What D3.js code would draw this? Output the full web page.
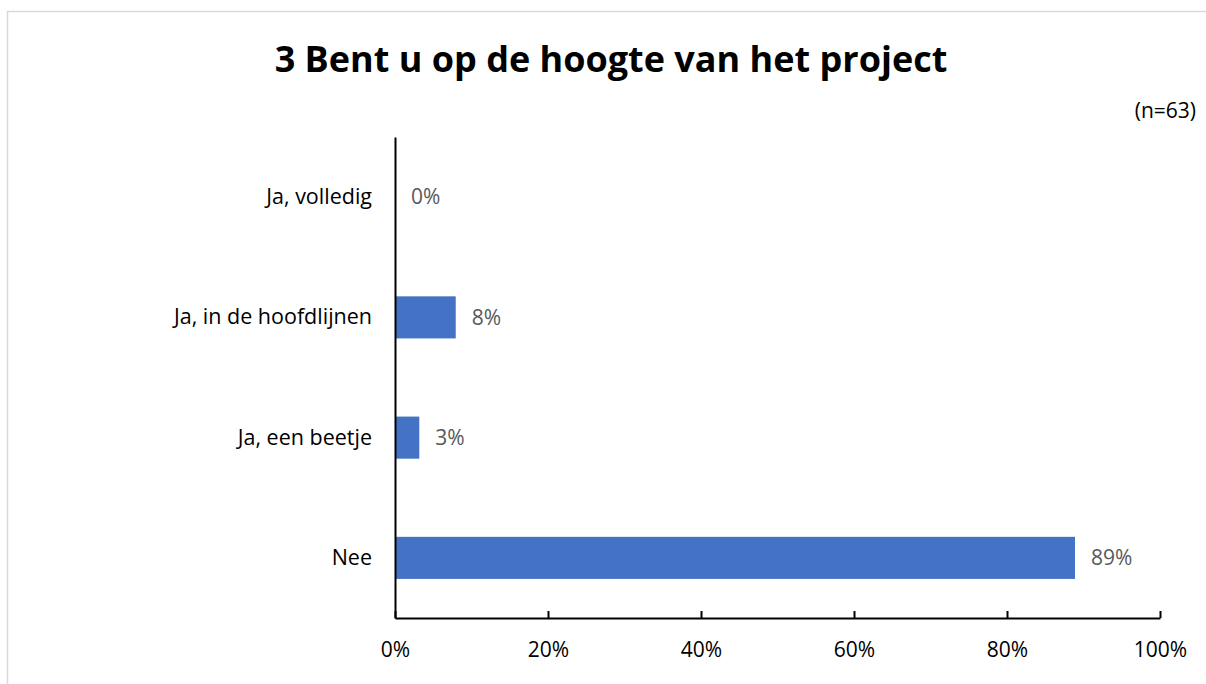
<!DOCTYPE html>
<html>
<head>
<meta charset="utf-8">
<script src="https://cdn.jsdelivr.net/npm/d3@7"></script>
<style>
  body { margin: 0; background: #fff; }
  svg { display: block; font-family: "Open Sans", Lato, sans-serif; }
</style>
</head>
<body>
<div id="chart"></div>
<script>
// data (n=63)
var categories = ["Ja, volledig", "Ja, in de hoofdlijnen", "Ja, een beetje", "Nee"];
var values = [0, 5 / 63, 2 / 63, 56 / 63];
var xTicks = [0, 0.2, 0.4, 0.6, 0.8, 1];

var w = 1206, h = 684;
var marginLeft = 395, marginRight = 46, marginTop = 137, marginBottom = 66;
var contentsWidth = w - marginLeft - marginRight;
var contentsHeight = h - marginTop - marginBottom;
var fontFam = "'Open Sans', Lato, sans-serif";

var svg = d3.select("#chart").append("svg")
  .attr("width", w)
  .attr("height", h);

// chart area border
svg.append("rect")
  .attr("x", 7.5).attr("y", 11.5)
  .attr("width", w + 10).attr("height", h + 10)
  .style("fill", "none")
  .style("stroke", "#d9d9d9")
  .style("stroke-width", 1.5);

svg.append("text")
  .attr("x", 611).attr("y", 72)
  .attr("text-anchor", "middle")
  .style("font-size", "36px")
  .style("font-weight", "bold")
  .style("fill", "#000")
  .text("3 Bent u op de hoogte van het project");

svg.append("text")
  .attr("x", 1196).attr("y", 118)
  .attr("text-anchor", "end")
  .style("font-size", "21px")
  .style("fill", "#000")
  .text("(n=63)");

var chartG = svg.append("g")
  .attr("transform", "translate(" + marginLeft + "," + marginTop + ")");

var xScale = d3.scaleLinear().domain([0, 1]).range([0, contentsWidth]);
var yScale = d3.scaleBand().domain(categories).range([0, contentsHeight]).paddingInner(0.65).paddingOuter(0.325);

chartG.selectAll("rect.bar")
  .data(values)
  .enter().append("rect")
  .attr("class", "bar")
  .attr("x", 0)
  .attr("y", function(d, i) { return yScale(categories[i]); })
  .attr("width", function(d) { return xScale(d); })
  .attr("height", yScale.bandwidth())
  .style("fill", "#4472c4");

chartG.selectAll("text.val")
  .data(values)
  .enter().append("text")
  .attr("class", "val")
  .attr("x", function(d) { return xScale(d) + 16; })
  .attr("y", function(d, i) { return yScale(categories[i]) + yScale.bandwidth() / 2; })
  .attr("dy", "0.35em")
  .style("font-size", "21px")
  .style("fill", "#595959")
  .text(function(d) { return Math.round(d * 100) + "%"; });

// x axis
var xAxis = chartG.append("g")
  .attr("transform", "translate(0," + contentsHeight + ")")
  .call(d3.axisBottom(xScale).tickValues(xTicks).tickFormat(d3.format(".0%")).tickSizeInner(-7).tickSizeOuter(0).tickPadding(24));
xAxis.select(".domain").style("stroke", "#000").style("stroke-width", 2);
xAxis.selectAll("line").style("stroke", "#000").style("stroke-width", 2);
xAxis.selectAll("text").style("font-size", "21px").style("fill", "#000").style("font-family", fontFam);

// y axis
var yAxis = chartG.append("g")
  .call(d3.axisLeft(yScale).tickSize(0).tickPadding(23));
yAxis.select(".domain").style("stroke", "#000").style("stroke-width", 2);
yAxis.selectAll("text").style("font-size", "21.5px").style("fill", "#000").style("font-family", fontFam);
</script>
</body>
</html>
